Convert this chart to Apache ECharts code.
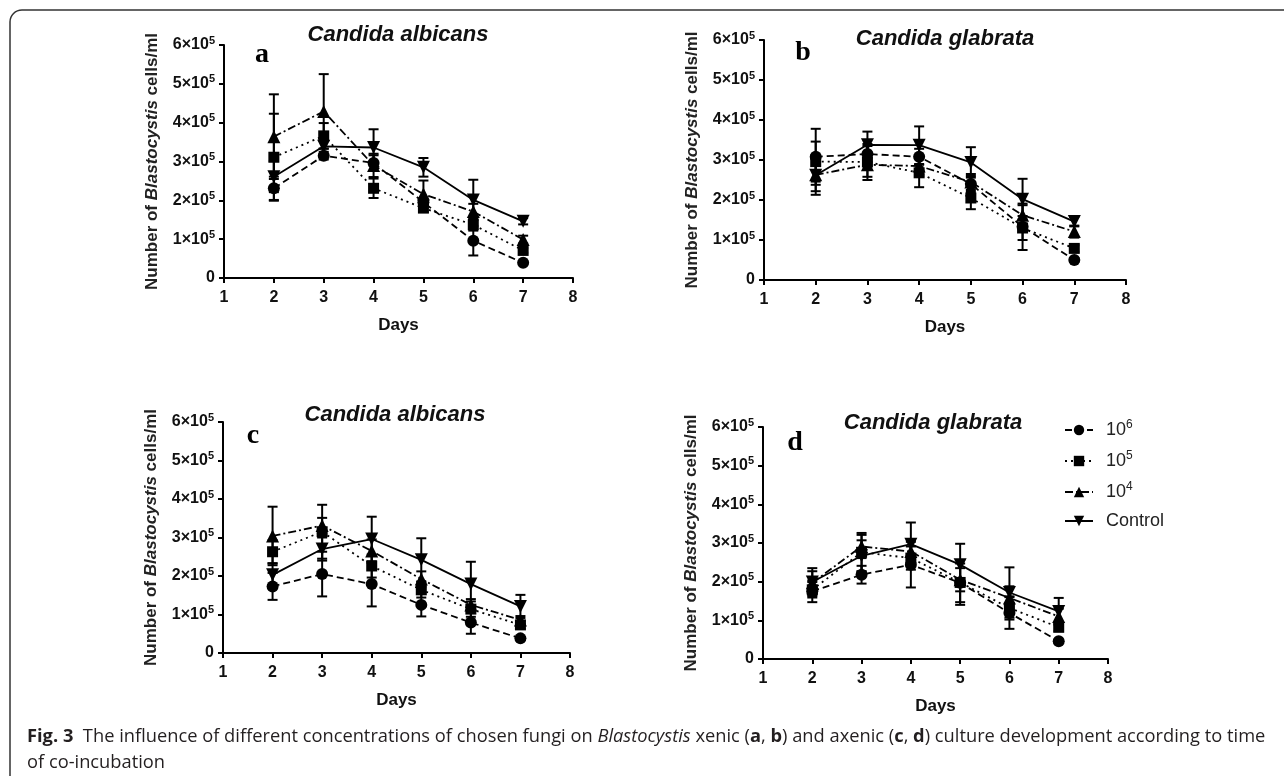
<!DOCTYPE html>
<html>
<head>
<meta charset="utf-8">
<script src="https://cdn.jsdelivr.net/npm/echarts@6/dist/echarts.min.js"></script>
<style>
  html, body { margin: 0; padding: 0; background: #fff; }
  #chart { width: 1284px; height: 776px; }
</style>
</head>
<body>
<div id="chart"></div>
<script>
// x values (days of co-incubation)
const days = [2, 3, 4, 5, 6, 7];
const yTicks = [0, 1, 2, 3, 4, 5, 6]; // ×10^5 cells/ml

// all values are in units of 10^5 Blastocystis cells/ml
// panel a - Candida albicans (xenic)
const a6 = [2.31, 3.15, 2.96, 1.95, 0.96, 0.39];
const a5 = [3.11, 3.66, 2.31, 1.80, 1.37, 0.71];
const a4 = [3.64, 4.29, 2.90, 2.16, 1.71, 0.99];
const aCtl = [2.61, 3.39, 3.36, 2.85, 2.01, 1.46];
const a6Err = [0.30, 0.10, 0.20, 0.10, 0.38, 0.03];
const a5Err = [1.12, 0.33, 0.25, 0.10, 0.15, 0.06];
const a4Err = [1.09, 0.96, 0.30, 0.35, 0.20, 0.10];
const aCtlErr = [0.40, 0.20, 0.47, 0.24, 0.52, 0.08];

// panel b - Candida glabrata (xenic)
const b6 = [3.08, 3.15, 3.08, 2.40, 1.33, 0.50];
const b5 = [2.96, 2.95, 2.68, 2.05, 1.30, 0.79];
const b4 = [2.63, 2.88, 2.85, 2.45, 1.62, 1.21];
const bCtl = [2.62, 3.38, 3.37, 2.94, 2.02, 1.46];
const b6Err = [0.70, 0.20, 0.20, 0.20, 0.58, 0.05];
const b5Err = [0.50, 0.45, 0.36, 0.28, 0.30, 0.08];
const b4Err = [0.50, 0.30, 0.25, 0.20, 0.25, 0.15];
const bCtlErr = [0.40, 0.33, 0.47, 0.38, 0.51, 0.12];

// panel c - Candida albicans (axenic)
const c6 = [1.73, 2.05, 1.79, 1.25, 0.79, 0.38];
const c5 = [2.63, 3.15, 2.26, 1.64, 1.14, 0.73];
const c4 = [3.04, 3.31, 2.65, 1.92, 1.25, 0.86];
const cCtl = [2.03, 2.70, 2.96, 2.42, 1.79, 1.21];
const c6Err = [0.35, 0.58, 0.58, 0.30, 0.29, 0.03];
const c5Err = [0.30, 0.70, 0.30, 0.20, 0.20, 0.10];
const c4Err = [0.76, 0.20, 0.30, 0.20, 0.15, 0.10];
const cCtlErr = [0.30, 0.30, 0.58, 0.56, 0.58, 0.30];

// panel d - Candida glabrata (axenic)
const d6 = [1.75, 2.18, 2.44, 1.97, 1.19, 0.46];
const d5 = [1.79, 2.76, 2.61, 1.98, 1.32, 0.82];
const d4 = [1.97, 2.91, 2.78, 2.05, 1.58, 1.10];
const dCtl = [1.99, 2.67, 2.97, 2.44, 1.72, 1.23];
const d6Err = [0.28, 0.23, 0.59, 0.50, 0.41, 0.04];
const d5Err = [0.20, 0.50, 0.30, 0.58, 0.30, 0.10];
const d4Err = [0.30, 0.30, 0.30, 0.30, 0.30, 0.20];
const dCtlErr = [0.36, 0.40, 0.56, 0.54, 0.65, 0.35];

const seriesNames = ['10^6', '10^5', '10^4', 'Control'];

const panels = [
  { title: 'Candida albicans', letter: 'a', vals: [a6, a5, a4, aCtl], errs: [a6Err, a5Err, a4Err, aCtlErr],
    grid: { left: 224, top: 45, width: 349, height: 233 }, titlePos: [398, 35], letterPos: [262, 55] },
  { title: 'Candida glabrata', letter: 'b', vals: [b6, b5, b4, bCtl], errs: [b6Err, b5Err, b4Err, bCtlErr],
    grid: { left: 764, top: 40, width: 362, height: 240 }, titlePos: [945, 39], letterPos: [803, 53] },
  { title: 'Candida albicans', letter: 'c', vals: [c6, c5, c4, cCtl], errs: [c6Err, c5Err, c4Err, cCtlErr],
    grid: { left: 223, top: 422, width: 347, height: 231 }, titlePos: [395, 415], letterPos: [253, 436] },
  { title: 'Candida glabrata', letter: 'd', vals: [d6, d5, d4, dCtl], errs: [d6Err, d5Err, d4Err, dCtlErr],
    grid: { left: 763, top: 427, width: 345, height: 232 }, titlePos: [933, 423], letterPos: [795, 443] }
];

// one look per concentration
const looks = [
  { symbol: 'circle', size: 12, rotate: 0, dash: [7, 4] },
  { symbol: 'rect', size: 11, rotate: 0, dash: [2, 4] },
  { symbol: 'triangle', size: 13, rotate: 0, dash: [8, 3, 2, 3] },
  { symbol: 'triangle', size: 13, rotate: 180, dash: 'solid' }
];

const FONT = 'Liberation Sans, Arial, sans-serif';

function errorBar(params, api) {
  const x = api.value(0);
  const y = api.value(1);
  const e = api.value(2);
  const hi = api.coord([x, y + e]);
  const lo = api.coord([x, y - e]);
  const w = 5;
  const style = { stroke: '#000', lineWidth: 2 };
  return {
    type: 'group',
    children: [
      { type: 'line', shape: { x1: hi[0], y1: hi[1], x2: lo[0], y2: lo[1] }, style: style },
      { type: 'line', shape: { x1: hi[0] - w, y1: hi[1], x2: hi[0] + w, y2: hi[1] }, style: style },
      { type: 'line', shape: { x1: lo[0] - w, y1: lo[1], x2: lo[0] + w, y2: lo[1] }, style: style }
    ]
  };
}

const grids = [], xAxes = [], yAxes = [], series = [], graphics = [];

// figure frame (rounded, open to the right and bottom)
graphics.push({
  type: 'rect', shape: { x: 10, y: 10, width: 1400, height: 900, r: 12 },
  style: { fill: 'none', stroke: '#333', lineWidth: 1.5 }, silent: true
});

panels.forEach(function (p, k) {
  grids.push(p.grid);
  xAxes.push({
    gridIndex: k, type: 'value', min: 1, max: 8, interval: 1,
    name: 'Days', nameLocation: 'middle', nameGap: 39,
    nameTextStyle: { fontFamily: FONT, fontWeight: 'bold', fontSize: 17, color: '#111' },
    axisLine: { lineStyle: { color: '#000', width: 2 } },
    axisTick: { length: 5, lineStyle: { color: '#000', width: 2 } },
    axisLabel: { margin: 12, fontFamily: FONT, fontWeight: 'bold', fontSize: 16, color: '#111' },
    splitLine: { show: false }
  });
  yAxes.push({
    gridIndex: k, type: 'value', min: 0, max: 6, interval: 1,
    name: 'Number of {i|Blastocystis} cells/ml', nameLocation: 'middle', nameGap: 63,
    nameTextStyle: {
      fontFamily: FONT, fontWeight: 'bold', fontSize: 17, color: '#222',
      rich: { i: { fontFamily: FONT, fontWeight: 'bold', fontStyle: 'italic', fontSize: 17, color: '#222' } }
    },
    axisLine: { show: true, lineStyle: { color: '#000', width: 2 } },
    axisTick: { show: true, length: 5, lineStyle: { color: '#000', width: 2 } },
    axisLabel: {
      margin: 9, color: '#111',
      formatter: function (v) { return v === 0 ? '{n|0}' : '{n|' + v + '×10}{s|5}'; },
      rich: {
        n: { fontFamily: FONT, fontWeight: 'bold', fontSize: 16, color: '#111' },
        s: { fontFamily: FONT, fontWeight: 'bold', fontSize: 11, color: '#111', padding: [0, 0, 9, 0] }
      }
    },
    splitLine: { show: false }
  });

  p.vals.forEach(function (vals, j) {
    const look = looks[j];
    series.push({
      name: seriesNames[j], type: 'line', xAxisIndex: k, yAxisIndex: k,
      data: days.map(function (d, i) { return [d, vals[i]]; }),
      symbol: look.symbol, symbolSize: look.size, symbolRotate: look.rotate,
      showAllSymbol: true, z: 3,
      lineStyle: { color: '#000', width: 1.8, type: look.dash },
      itemStyle: { color: '#000' },
      animation: false, silent: true
    });
    series.push({
      type: 'custom', xAxisIndex: k, yAxisIndex: k,
      data: days.map(function (d, i) { return [d, vals[i], p.errs[j][i]]; }),
      encode: { x: 0, y: 1 },
      renderItem: errorBar, z: 2,
      animation: false, silent: true
    });
  });

  graphics.push({
    type: 'text', x: p.titlePos[0], y: p.titlePos[1], silent: true,
    style: {
      text: p.title, fontFamily: FONT, fontWeight: 'bold', fontStyle: 'italic', fontSize: 22,
      fill: '#111', align: 'center', verticalAlign: 'middle'
    }
  });
  graphics.push({
    type: 'text', x: p.letterPos[0], y: p.letterPos[1], silent: true,
    style: {
      text: p.letter, fontFamily: 'Liberation Serif, Times New Roman, serif', fontWeight: 'bold',
      fontSize: 28, fill: '#000', align: 'center', verticalAlign: 'middle'
    }
  });
});

// caption
const CAP = 'Open Sans, Noto Sans, sans-serif';
const CAP_SIZE = 18.3;
graphics.push({
  type: 'text', x: 27, y: 737, silent: true,
  style: {
    text: '{b|Fig. 3}  The influence of different concentrations of chosen fungi on {i|Blastocystis} xenic ({b|a}, {b|b}) and axenic ({b|c}, {b|d}) culture development according to time',
    fontFamily: CAP, fontSize: CAP_SIZE, fill: '#231f20', verticalAlign: 'middle',
    rich: {
      b: { fontFamily: CAP, fontSize: CAP_SIZE, fontWeight: 'bold', fill: '#231f20' },
      i: { fontFamily: CAP, fontSize: CAP_SIZE, fontStyle: 'italic', fill: '#231f20' }
    }
  }
});
graphics.push({
  type: 'text', x: 27, y: 763, silent: true,
  style: { text: 'of co-incubation', fontFamily: CAP, fontSize: CAP_SIZE, fill: '#231f20', verticalAlign: 'middle' }
});

const chart = echarts.init(document.getElementById('chart'));
chart.setOption({
  backgroundColor: '#fff',
  animation: false,
  grid: grids,
  xAxis: xAxes,
  yAxis: yAxes,
  legend: {
    data: seriesNames, orient: 'vertical', left: 1064, top: 419, padding: 0,
    itemWidth: 28, itemHeight: 13, itemGap: 11,
    formatter: function (name) { return name === 'Control' ? '{n|Control}' : '{n|10}{s|' + name.slice(3) + '}'; },
    textStyle: {
      padding: [0, 0, 0, 8],
      rich: {
        n: { fontFamily: FONT, fontSize: 18, color: '#222' },
        s: { fontFamily: FONT, fontSize: 12, color: '#222', padding: [0, 0, 10, 0] }
      }
    }
  },
  graphic: graphics,
  series: series
});
</script>
</body>
</html>
